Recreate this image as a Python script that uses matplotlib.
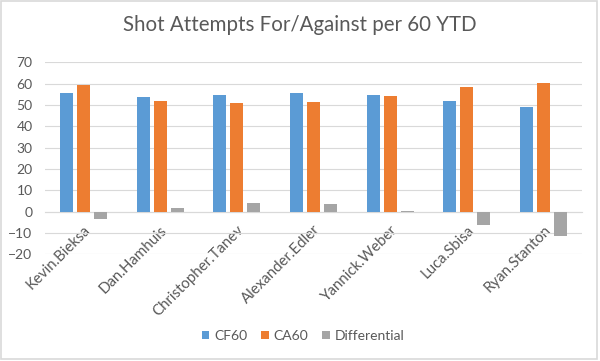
import matplotlib

matplotlib.use("Agg")
import matplotlib.pyplot as plt
import numpy as np
from matplotlib.patches import Rectangle

players = [
    "Kevin.Bieksa",
    "Dan.Hamhuis",
    "Christopher.Tanev",
    "Alexander.Edler",
    "Yannick.Weber",
    "Luca.Sbisa",
    "Ryan.Stanton",
]
cf60 = [55.5, 53.6, 54.7, 55.5, 54.7, 52.0, 49.1]
ca60 = [59.3, 51.7, 50.8, 51.3, 54.2, 58.5, 60.3]
differential = [-3.6, 1.7, 4.2, 3.8, 0.5, -6.1, -11.4]
series_names = ["CF60", "CA60", "Differential"]
yticks = list(range(-20, 71, 10))

BLUE = "#5B9BD5"
ORANGE = "#ED7D31"
GRAY = "#A5A5A5"
TEXT = "#595959"
GRID = "#D9D9D9"

plt.rcParams["font.family"] = ["Lato", "DejaVu Sans"]

fig = plt.figure(figsize=(6.0, 3.61), dpi=100)
ax = fig.add_axes([0.075, 0.2953, 0.895, 0.5321])

x = np.arange(len(players))
pitch = 0.222
width = 0.17
for k, (vals, col) in enumerate(zip([cf60, ca60, differential], [BLUE, ORANGE, GRAY])):
    ax.bar(x + (k - 1) * pitch, vals, width=width, color=col, label=series_names[k], zorder=3)

ax.set_xlim(-0.5, len(players) - 0.5)
ax.set_ylim(-20, 70)
ax.set_yticks(yticks)
ax.yaxis.grid(True, color=GRID, linewidth=0.8, zorder=0)
ax.set_axisbelow(True)

for side in ["left", "right", "top"]:
    ax.spines[side].set_visible(False)
ax.spines["bottom"].set_position(("data", 0))
ax.spines["bottom"].set_color(GRID)
ax.spines["bottom"].set_linewidth(0.8)
ax.spines["bottom"].set_zorder(2)

ax.set_xticks(x)
ax.set_xticklabels(players, rotation=45, ha="right", rotation_mode="anchor")
ax.tick_params(axis="x", length=0, pad=8, labelsize=10.8, labelcolor=TEXT)
ax.tick_params(axis="y", length=0, pad=9, labelsize=10, labelcolor=TEXT)

fig.text(0.5, 0.931, "Shot Attempts For/Against per 60 YTD", ha="center", va="center",
         fontsize=14.8, color=TEXT)

fig.legend(loc="center", bbox_to_anchor=(0.505, 0.069), ncol=3, frameon=False,
           handlelength=0.55, handleheight=0.55, handletextpad=0.35, columnspacing=1.0,
           fontsize=10, labelcolor=TEXT)

fig.patches.append(Rectangle((0.002, 0.006), 0.993, 0.99, transform=fig.transFigure,
                             fill=False, edgecolor=GRID, linewidth=1.2))

fig.savefig("out.png", dpi=100)
